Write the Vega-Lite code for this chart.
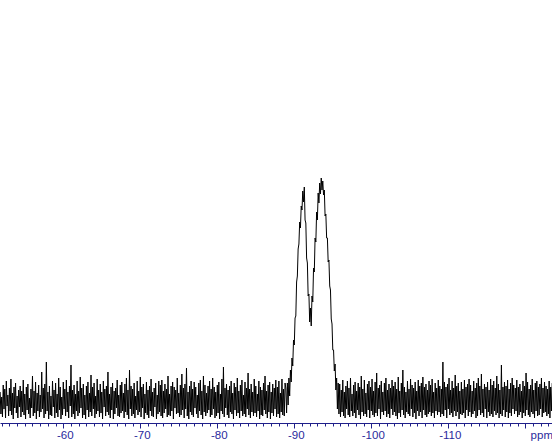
{
"$schema": "https://vega.github.io/schema/vega-lite/v6.json",
"width": 552, "height": 423,
"autosize": "none",
"padding": {"left": 0, "right": 0, "top": 0, "bottom": 22},
"background": "white",
"config": {"view": {"stroke": null}},
"data": {"values": [
{"ppm":-51.8,"int":8},{"ppm":-51.9,"int":-14},{"ppm":-52.0,"int":3},{"ppm":-52.1,"int":-17},{"ppm":-52.2,"int":15},{"ppm":-52.3,"int":-9},{"ppm":-52.4,"int":11},{"ppm":-52.5,"int":-18},{"ppm":-52.6,"int":19},{"ppm":-52.7,"int":-6},
{"ppm":-52.8,"int":5},{"ppm":-52.9,"int":-16},{"ppm":-53.0,"int":12},{"ppm":-53.1,"int":-11},{"ppm":-53.2,"int":21},{"ppm":-53.3,"int":-15},{"ppm":-53.4,"int":7},{"ppm":-53.5,"int":-19},{"ppm":-53.6,"int":13},{"ppm":-53.7,"int":-8},
{"ppm":-53.8,"int":17},{"ppm":-53.9,"int":-13},{"ppm":-54.0,"int":4},{"ppm":-54.1,"int":-18},{"ppm":-54.2,"int":10},{"ppm":-54.3,"int":-7},{"ppm":-54.4,"int":14},{"ppm":-54.5,"int":-17},{"ppm":-54.6,"int":9},{"ppm":-54.7,"int":-12},
{"ppm":-54.8,"int":20},{"ppm":-54.9,"int":-15},{"ppm":-55.0,"int":6},{"ppm":-55.1,"int":-19},{"ppm":-55.2,"int":13},{"ppm":-55.3,"int":-10},{"ppm":-55.4,"int":16},{"ppm":-55.5,"int":-14},{"ppm":-55.6,"int":2},{"ppm":-55.7,"int":-18},
{"ppm":-55.8,"int":11},{"ppm":-55.9,"int":-8},{"ppm":-56.0,"int":24},{"ppm":-56.1,"int":-16},{"ppm":-56.2,"int":9},{"ppm":-56.3,"int":-13},{"ppm":-56.4,"int":18},{"ppm":-56.5,"int":-19},{"ppm":-56.6,"int":7},{"ppm":-56.7,"int":-11},
{"ppm":-56.8,"int":15},{"ppm":-56.9,"int":-17},{"ppm":-57.0,"int":5},{"ppm":-57.1,"int":-12},{"ppm":-57.2,"int":28},{"ppm":-57.3,"int":-9},{"ppm":-57.4,"int":12},{"ppm":-57.5,"int":-18},{"ppm":-57.6,"int":16},{"ppm":-57.7,"int":-14},
{"ppm":-57.8,"int":38},{"ppm":-57.9,"int":-11},{"ppm":-58.0,"int":8},{"ppm":-58.1,"int":-19},{"ppm":-58.2,"int":14},{"ppm":-58.3,"int":-15},{"ppm":-58.4,"int":4},{"ppm":-58.5,"int":-16},{"ppm":-58.6,"int":19},{"ppm":-58.7,"int":-7},
{"ppm":-58.8,"int":10},{"ppm":-58.9,"int":-18},{"ppm":-59.0,"int":17},{"ppm":-59.1,"int":-13},{"ppm":-59.2,"int":6},{"ppm":-59.3,"int":-17},{"ppm":-59.4,"int":22},{"ppm":-59.5,"int":-10},{"ppm":-59.6,"int":13},{"ppm":-59.7,"int":-19},
{"ppm":-59.8,"int":3},{"ppm":-59.9,"int":-15},{"ppm":-60.0,"int":18},{"ppm":-60.1,"int":-9},{"ppm":-60.2,"int":11},{"ppm":-60.3,"int":-16},{"ppm":-60.4,"int":20},{"ppm":-60.5,"int":-12},{"ppm":-60.6,"int":8},{"ppm":-60.7,"int":-18},
{"ppm":-60.8,"int":14},{"ppm":-60.9,"int":-6},{"ppm":-61.0,"int":35},{"ppm":-61.1,"int":-17},{"ppm":-61.2,"int":10},{"ppm":-61.3,"int":-14},{"ppm":-61.4,"int":15},{"ppm":-61.5,"int":-19},{"ppm":-61.6,"int":6},{"ppm":-61.7,"int":-11},
{"ppm":-61.8,"int":19},{"ppm":-61.9,"int":-16},{"ppm":-62.0,"int":9},{"ppm":-62.1,"int":-13},{"ppm":-62.2,"int":23},{"ppm":-62.3,"int":-8},{"ppm":-62.4,"int":12},{"ppm":-62.5,"int":-18},{"ppm":-62.6,"int":16},{"ppm":-62.7,"int":-15},
{"ppm":-62.8,"int":5},{"ppm":-62.9,"int":-19},{"ppm":-63.0,"int":14},{"ppm":-63.1,"int":-10},{"ppm":-63.2,"int":18},{"ppm":-63.3,"int":-17},{"ppm":-63.4,"int":7},{"ppm":-63.5,"int":-12},{"ppm":-63.6,"int":25},{"ppm":-63.7,"int":-16},
{"ppm":-63.8,"int":13},{"ppm":-63.9,"int":-9},{"ppm":-64.0,"int":17},{"ppm":-64.1,"int":-18},{"ppm":-64.2,"int":4},{"ppm":-64.3,"int":-14},{"ppm":-64.4,"int":21},{"ppm":-64.5,"int":-11},{"ppm":-64.6,"int":10},{"ppm":-64.7,"int":-17},
{"ppm":-64.8,"int":16},{"ppm":-64.9,"int":-13},{"ppm":-65.0,"int":8},{"ppm":-65.1,"int":-19},{"ppm":-65.2,"int":19},{"ppm":-65.3,"int":-7},{"ppm":-65.4,"int":11},{"ppm":-65.5,"int":-16},{"ppm":-65.6,"int":14},{"ppm":-65.7,"int":-12},
{"ppm":-65.8,"int":28},{"ppm":-65.9,"int":-15},{"ppm":-66.0,"int":6},{"ppm":-66.1,"int":-18},{"ppm":-66.2,"int":13},{"ppm":-66.3,"int":-10},{"ppm":-66.4,"int":17},{"ppm":-66.5,"int":-19},{"ppm":-66.6,"int":9},{"ppm":-66.7,"int":-14},
{"ppm":-66.8,"int":12},{"ppm":-66.9,"int":-8},{"ppm":-67.0,"int":20},{"ppm":-67.1,"int":-16},{"ppm":-67.2,"int":5},{"ppm":-67.3,"int":-17},{"ppm":-67.4,"int":15},{"ppm":-67.5,"int":-13},{"ppm":-67.6,"int":18},{"ppm":-67.7,"int":-11},
{"ppm":-67.8,"int":7},{"ppm":-67.9,"int":-18},{"ppm":-68.0,"int":16},{"ppm":-68.1,"int":-12},{"ppm":-68.2,"int":22},{"ppm":-68.3,"int":-15},{"ppm":-68.4,"int":10},{"ppm":-68.5,"int":-19},{"ppm":-68.6,"int":30},{"ppm":-68.7,"int":-9},
{"ppm":-68.8,"int":14},{"ppm":-68.9,"int":-16},{"ppm":-69.0,"int":11},{"ppm":-69.1,"int":-14},{"ppm":-69.2,"int":17},{"ppm":-69.3,"int":-18},{"ppm":-69.4,"int":4},{"ppm":-69.5,"int":-10},{"ppm":-69.6,"int":19},{"ppm":-69.7,"int":-15},
{"ppm":-69.8,"int":9},{"ppm":-69.9,"int":-12},{"ppm":-70.0,"int":23},{"ppm":-70.1,"int":-17},{"ppm":-70.2,"int":13},{"ppm":-70.3,"int":-8},{"ppm":-70.4,"int":16},{"ppm":-70.5,"int":-19},{"ppm":-70.6,"int":6},{"ppm":-70.7,"int":-13},
{"ppm":-70.8,"int":18},{"ppm":-70.9,"int":-15},{"ppm":-71.0,"int":10},{"ppm":-71.1,"int":-18},{"ppm":-71.2,"int":14},{"ppm":-71.3,"int":-11},{"ppm":-71.4,"int":21},{"ppm":-71.5,"int":-16},{"ppm":-71.6,"int":8},{"ppm":-71.7,"int":-17},
{"ppm":-71.8,"int":12},{"ppm":-71.9,"int":-7},{"ppm":-72.0,"int":17},{"ppm":-72.1,"int":-19},{"ppm":-72.2,"int":5},{"ppm":-72.3,"int":-14},{"ppm":-72.4,"int":19},{"ppm":-72.5,"int":-12},{"ppm":-72.6,"int":15},{"ppm":-72.7,"int":-16},
{"ppm":-72.8,"int":20},{"ppm":-72.9,"int":-18},{"ppm":-73.0,"int":9},{"ppm":-73.1,"int":-13},{"ppm":-73.2,"int":16},{"ppm":-73.3,"int":-9},{"ppm":-73.4,"int":11},{"ppm":-73.5,"int":-17},{"ppm":-73.6,"int":24},{"ppm":-73.7,"int":-15},
{"ppm":-73.8,"int":6},{"ppm":-73.9,"int":-16},{"ppm":-74.0,"int":14},{"ppm":-74.1,"int":-11},{"ppm":-74.2,"int":18},{"ppm":-74.3,"int":-19},{"ppm":-74.4,"int":13},{"ppm":-74.5,"int":-8},{"ppm":-74.6,"int":10},{"ppm":-74.7,"int":-14},
{"ppm":-74.8,"int":22},{"ppm":-74.9,"int":-13},{"ppm":-75.0,"int":7},{"ppm":-75.1,"int":-17},{"ppm":-75.2,"int":15},{"ppm":-75.3,"int":-15},{"ppm":-75.4,"int":26},{"ppm":-75.5,"int":-10},{"ppm":-75.6,"int":12},{"ppm":-75.7,"int":-18},
{"ppm":-75.8,"int":16},{"ppm":-75.9,"int":-9},{"ppm":-76.0,"int":32},{"ppm":-76.1,"int":-16},{"ppm":-76.2,"int":8},{"ppm":-76.3,"int":-19},{"ppm":-76.4,"int":14},{"ppm":-76.5,"int":-12},{"ppm":-76.6,"int":19},{"ppm":-76.7,"int":-15},
{"ppm":-76.8,"int":11},{"ppm":-76.9,"int":-17},{"ppm":-77.0,"int":18},{"ppm":-77.1,"int":-8},{"ppm":-77.2,"int":13},{"ppm":-77.3,"int":-14},{"ppm":-77.4,"int":5},{"ppm":-77.5,"int":-18},{"ppm":-77.6,"int":17},{"ppm":-77.7,"int":-11},
{"ppm":-77.8,"int":20},{"ppm":-77.9,"int":-15},{"ppm":-78.0,"int":9},{"ppm":-78.1,"int":-19},{"ppm":-78.2,"int":24},{"ppm":-78.3,"int":-12},{"ppm":-78.4,"int":15},{"ppm":-78.5,"int":-16},{"ppm":-78.6,"int":7},{"ppm":-78.7,"int":-13},
{"ppm":-78.8,"int":14},{"ppm":-78.9,"int":-10},{"ppm":-79.0,"int":19},{"ppm":-79.1,"int":-17},{"ppm":-79.2,"int":11},{"ppm":-79.3,"int":-15},{"ppm":-79.4,"int":22},{"ppm":-79.5,"int":-9},{"ppm":-79.6,"int":13},{"ppm":-79.7,"int":-18},
{"ppm":-79.8,"int":8},{"ppm":-79.9,"int":-16},{"ppm":-80.0,"int":15},{"ppm":-80.1,"int":-13},{"ppm":-80.2,"int":18},{"ppm":-80.3,"int":-19},{"ppm":-80.4,"int":6},{"ppm":-80.5,"int":-11},{"ppm":-80.6,"int":21},{"ppm":-80.7,"int":-14},
{"ppm":-80.8,"int":33},{"ppm":-80.9,"int":-17},{"ppm":-81.0,"int":12},{"ppm":-81.1,"int":-8},{"ppm":-81.2,"int":16},{"ppm":-81.3,"int":-15},{"ppm":-81.4,"int":10},{"ppm":-81.5,"int":-18},{"ppm":-81.6,"int":14},{"ppm":-81.7,"int":-12},
{"ppm":-81.8,"int":19},{"ppm":-81.9,"int":-14},{"ppm":-82.0,"int":7},{"ppm":-82.1,"int":-19},{"ppm":-82.2,"int":17},{"ppm":-82.3,"int":-10},{"ppm":-82.4,"int":13},{"ppm":-82.5,"int":-16},{"ppm":-82.6,"int":22},{"ppm":-82.7,"int":-13},
{"ppm":-82.8,"int":9},{"ppm":-82.9,"int":-18},{"ppm":-83.0,"int":15},{"ppm":-83.1,"int":-11},{"ppm":-83.2,"int":20},{"ppm":-83.3,"int":-16},{"ppm":-83.4,"int":5},{"ppm":-83.5,"int":-14},{"ppm":-83.6,"int":18},{"ppm":-83.7,"int":-17},
{"ppm":-83.8,"int":12},{"ppm":-83.9,"int":-9},{"ppm":-84.0,"int":27},{"ppm":-84.1,"int":-15},{"ppm":-84.2,"int":11},{"ppm":-84.3,"int":-18},{"ppm":-84.4,"int":16},{"ppm":-84.5,"int":-12},{"ppm":-84.6,"int":8},{"ppm":-84.7,"int":-16},
{"ppm":-84.8,"int":21},{"ppm":-84.9,"int":-13},{"ppm":-85.0,"int":14},{"ppm":-85.1,"int":-17},{"ppm":-85.2,"int":6},{"ppm":-85.3,"int":-11},{"ppm":-85.4,"int":19},{"ppm":-85.5,"int":-19},{"ppm":-85.6,"int":13},{"ppm":-85.7,"int":-15},
{"ppm":-85.8,"int":10},{"ppm":-85.9,"int":-16},{"ppm":-86.0,"int":17},{"ppm":-86.1,"int":-10},{"ppm":-86.2,"int":24},{"ppm":-86.3,"int":-14},{"ppm":-86.4,"int":9},{"ppm":-86.5,"int":-18},{"ppm":-86.6,"int":15},{"ppm":-86.7,"int":-12},
{"ppm":-86.8,"int":18},{"ppm":-86.9,"int":-19},{"ppm":-87.0,"int":8},{"ppm":-87.1,"int":-13},{"ppm":-87.2,"int":16},{"ppm":-87.3,"int":-16},{"ppm":-87.4,"int":12},{"ppm":-87.5,"int":-9},{"ppm":-87.6,"int":20},{"ppm":-87.7,"int":-17},
{"ppm":-87.8,"int":13},{"ppm":-87.9,"int":-14},{"ppm":-88.0,"int":19},{"ppm":-88.1,"int":-18},{"ppm":-88.2,"int":7},{"ppm":-88.3,"int":-12},{"ppm":-88.4,"int":21},{"ppm":-88.5,"int":-15},{"ppm":-88.6,"int":11},{"ppm":-88.7,"int":-16},
{"ppm":-88.8,"int":17},
{"ppm":-88.9,"int":12},{"ppm":-89.0,"int":-13},{"ppm":-89.1,"int":17},{"ppm":-89.2,"int":-5},{"ppm":-89.3,"int":22},{"ppm":-89.4,"int":4},{"ppm":-89.5,"int":30},{"ppm":-89.6,"int":18},{"ppm":-89.7,"int":42},{"ppm":-89.8,"int":34},
{"ppm":-89.9,"int":60},{"ppm":-90.0,"int":55},{"ppm":-90.1,"int":82},{"ppm":-90.2,"int":84},{"ppm":-90.3,"int":118},{"ppm":-90.4,"int":124},{"ppm":-90.5,"int":151},{"ppm":-90.6,"int":156},{"ppm":-90.7,"int":178},{"ppm":-90.8,"int":172},
{"ppm":-90.9,"int":194},{"ppm":-91.0,"int":190},{"ppm":-91.1,"int":209},{"ppm":-91.2,"int":198},{"ppm":-91.3,"int":213},{"ppm":-91.4,"int":180},{"ppm":-91.5,"int":177},{"ppm":-91.6,"int":142},{"ppm":-91.7,"int":137},{"ppm":-91.8,"int":104},
{"ppm":-91.9,"int":106},{"ppm":-92.0,"int":78},{"ppm":-92.1,"int":92},{"ppm":-92.2,"int":74},{"ppm":-92.3,"int":104},{"ppm":-92.4,"int":98},{"ppm":-92.5,"int":132},{"ppm":-92.6,"int":128},{"ppm":-92.7,"int":162},{"ppm":-92.8,"int":158},
{"ppm":-92.9,"int":188},{"ppm":-93.0,"int":180},{"ppm":-93.1,"int":207},{"ppm":-93.2,"int":197},{"ppm":-93.3,"int":217},{"ppm":-93.4,"int":206},{"ppm":-93.5,"int":222},{"ppm":-93.6,"int":210},{"ppm":-93.7,"int":219},{"ppm":-93.8,"int":205},
{"ppm":-93.9,"int":210},{"ppm":-94.0,"int":184},{"ppm":-94.1,"int":186},{"ppm":-94.2,"int":162},{"ppm":-94.3,"int":162},{"ppm":-94.4,"int":138},{"ppm":-94.5,"int":140},{"ppm":-94.6,"int":114},{"ppm":-94.7,"int":110},{"ppm":-94.8,"int":81},
{"ppm":-94.9,"int":76},{"ppm":-95.0,"int":50},{"ppm":-95.1,"int":50},{"ppm":-95.2,"int":29},{"ppm":-95.3,"int":36},{"ppm":-95.4,"int":10},{"ppm":-95.5,"int":22},{"ppm":-95.6,"int":-9},{"ppm":-95.7,"int":17},
{"ppm":-95.8,"int":-14},{"ppm":-95.9,"int":16},{"ppm":-96.0,"int":-17},{"ppm":-96.1,"int":10},{"ppm":-96.2,"int":-12},{"ppm":-96.3,"int":20},{"ppm":-96.4,"int":-16},{"ppm":-96.5,"int":8},{"ppm":-96.6,"int":-18},{"ppm":-96.7,"int":14},
{"ppm":-96.8,"int":-9},{"ppm":-96.9,"int":19},{"ppm":-97.0,"int":-15},{"ppm":-97.1,"int":12},{"ppm":-97.2,"int":-17},{"ppm":-97.3,"int":22},{"ppm":-97.4,"int":-11},{"ppm":-97.5,"int":6},{"ppm":-97.6,"int":-16},{"ppm":-97.7,"int":15},
{"ppm":-97.8,"int":-13},{"ppm":-97.9,"int":18},{"ppm":-98.0,"int":-18},{"ppm":-98.1,"int":9},{"ppm":-98.2,"int":-10},{"ppm":-98.3,"int":17},{"ppm":-98.4,"int":-15},{"ppm":-98.5,"int":13},{"ppm":-98.6,"int":-19},{"ppm":-98.7,"int":24},
{"ppm":-98.8,"int":-12},{"ppm":-98.9,"int":11},{"ppm":-99.0,"int":-16},{"ppm":-99.1,"int":20},{"ppm":-99.2,"int":-14},{"ppm":-99.3,"int":7},{"ppm":-99.4,"int":-17},{"ppm":-99.5,"int":16},{"ppm":-99.6,"int":-10},{"ppm":-99.7,"int":19},
{"ppm":-99.8,"int":-18},{"ppm":-99.9,"int":13},{"ppm":-100.0,"int":-11},{"ppm":-100.1,"int":21},{"ppm":-100.2,"int":-15},{"ppm":-100.3,"int":9},{"ppm":-100.4,"int":-17},{"ppm":-100.5,"int":18},{"ppm":-100.6,"int":-13},{"ppm":-100.7,"int":27},
{"ppm":-100.8,"int":-16},{"ppm":-100.9,"int":12},{"ppm":-101.0,"int":-9},{"ppm":-101.1,"int":15},{"ppm":-101.2,"int":-19},{"ppm":-101.3,"int":19},{"ppm":-101.4,"int":-12},{"ppm":-101.5,"int":8},{"ppm":-101.6,"int":-15},{"ppm":-101.7,"int":17},
{"ppm":-101.8,"int":-11},{"ppm":-101.9,"int":22},{"ppm":-102.0,"int":-17},{"ppm":-102.1,"int":10},{"ppm":-102.2,"int":-14},{"ppm":-102.3,"int":16},{"ppm":-102.4,"int":-18},{"ppm":-102.5,"int":12},{"ppm":-102.6,"int":-9},{"ppm":-102.7,"int":20},
{"ppm":-102.8,"int":-15},{"ppm":-102.9,"int":14},{"ppm":-103.0,"int":-12},{"ppm":-103.1,"int":18},{"ppm":-103.2,"int":-16},{"ppm":-103.3,"int":11},{"ppm":-103.4,"int":-19},{"ppm":-103.5,"int":23},{"ppm":-103.6,"int":-13},{"ppm":-103.7,"int":9},
{"ppm":-103.8,"int":-17},{"ppm":-103.9,"int":17},{"ppm":-104.0,"int":-10},{"ppm":-104.1,"int":30},{"ppm":-104.2,"int":-15},{"ppm":-104.3,"int":13},{"ppm":-104.4,"int":-18},{"ppm":-104.5,"int":8},{"ppm":-104.6,"int":-12},{"ppm":-104.7,"int":19},
{"ppm":-104.8,"int":-14},{"ppm":-104.9,"int":11},{"ppm":-105.0,"int":-16},{"ppm":-105.1,"int":21},{"ppm":-105.2,"int":-9},{"ppm":-105.3,"int":15},{"ppm":-105.4,"int":-17},{"ppm":-105.5,"int":12},{"ppm":-105.6,"int":-13},{"ppm":-105.7,"int":18},
{"ppm":-105.8,"int":-19},{"ppm":-105.9,"int":9},{"ppm":-106.0,"int":-11},{"ppm":-106.1,"int":20},{"ppm":-106.2,"int":-16},{"ppm":-106.3,"int":14},{"ppm":-106.4,"int":-12},{"ppm":-106.5,"int":17},{"ppm":-106.6,"int":-18},{"ppm":-106.7,"int":23},
{"ppm":-106.8,"int":-10},{"ppm":-106.9,"int":13},{"ppm":-107.0,"int":-15},{"ppm":-107.1,"int":16},{"ppm":-107.2,"int":-17},{"ppm":-107.3,"int":10},{"ppm":-107.4,"int":-14},{"ppm":-107.5,"int":19},{"ppm":-107.6,"int":-12},{"ppm":-107.7,"int":15},
{"ppm":-107.8,"int":-16},{"ppm":-107.9,"int":21},{"ppm":-108.0,"int":-13},{"ppm":-108.1,"int":8},{"ppm":-108.2,"int":-18},{"ppm":-108.3,"int":17},{"ppm":-108.4,"int":-11},{"ppm":-108.5,"int":12},{"ppm":-108.6,"int":-15},{"ppm":-108.7,"int":20},
{"ppm":-108.8,"int":-12},{"ppm":-108.9,"int":14},{"ppm":-109.0,"int":-17},{"ppm":-109.1,"int":11},{"ppm":-109.2,"int":-14},{"ppm":-109.3,"int":38},{"ppm":-109.4,"int":-16},{"ppm":-109.5,"int":18},{"ppm":-109.6,"int":-10},{"ppm":-109.7,"int":13},
{"ppm":-109.8,"int":-18},{"ppm":-109.9,"int":16},{"ppm":-110.0,"int":-9},{"ppm":-110.1,"int":22},{"ppm":-110.2,"int":-15},{"ppm":-110.3,"int":10},{"ppm":-110.4,"int":-13},{"ppm":-110.5,"int":19},{"ppm":-110.6,"int":-17},{"ppm":-110.7,"int":12},
{"ppm":-110.8,"int":-11},{"ppm":-110.9,"int":25},{"ppm":-111.0,"int":-16},{"ppm":-111.1,"int":14},{"ppm":-111.2,"int":-12},{"ppm":-111.3,"int":17},{"ppm":-111.4,"int":-19},{"ppm":-111.5,"int":9},{"ppm":-111.6,"int":-14},{"ppm":-111.7,"int":18},
{"ppm":-111.8,"int":-15},{"ppm":-111.9,"int":11},{"ppm":-112.0,"int":-13},{"ppm":-112.1,"int":20},{"ppm":-112.2,"int":-18},{"ppm":-112.3,"int":13},{"ppm":-112.4,"int":-10},{"ppm":-112.5,"int":16},{"ppm":-112.6,"int":-16},{"ppm":-112.7,"int":21},
{"ppm":-112.8,"int":-12},{"ppm":-112.9,"int":15},{"ppm":-113.0,"int":-17},{"ppm":-113.1,"int":9},{"ppm":-113.2,"int":-14},{"ppm":-113.3,"int":19},{"ppm":-113.4,"int":-11},{"ppm":-113.5,"int":12},{"ppm":-113.6,"int":-18},{"ppm":-113.7,"int":17},
{"ppm":-113.8,"int":-16},{"ppm":-113.9,"int":22},{"ppm":-114.0,"int":-10},{"ppm":-114.1,"int":14},{"ppm":-114.2,"int":-15},{"ppm":-114.3,"int":26},{"ppm":-114.4,"int":-13},{"ppm":-114.5,"int":11},{"ppm":-114.6,"int":-17},{"ppm":-114.7,"int":16},
{"ppm":-114.8,"int":-9},{"ppm":-114.9,"int":13},{"ppm":-115.0,"int":-18},{"ppm":-115.1,"int":18},{"ppm":-115.2,"int":-12},{"ppm":-115.3,"int":10},{"ppm":-115.4,"int":-16},{"ppm":-115.5,"int":21},{"ppm":-115.6,"int":-14},{"ppm":-115.7,"int":15},
{"ppm":-115.8,"int":-17},{"ppm":-115.9,"int":19},{"ppm":-116.0,"int":-11},{"ppm":-116.1,"int":12},{"ppm":-116.2,"int":-15},{"ppm":-116.3,"int":24},{"ppm":-116.4,"int":-13},{"ppm":-116.5,"int":16},{"ppm":-116.6,"int":-18},{"ppm":-116.7,"int":10},
{"ppm":-116.8,"int":-14},{"ppm":-116.9,"int":35},{"ppm":-117.0,"int":-16},{"ppm":-117.1,"int":13},{"ppm":-117.2,"int":-10},{"ppm":-117.3,"int":18},{"ppm":-117.4,"int":-17},{"ppm":-117.5,"int":14},{"ppm":-117.6,"int":-12},{"ppm":-117.7,"int":20},
{"ppm":-117.8,"int":-18},{"ppm":-117.9,"int":11},{"ppm":-118.0,"int":-13},{"ppm":-118.1,"int":17},{"ppm":-118.2,"int":-16},{"ppm":-118.3,"int":22},{"ppm":-118.4,"int":-9},{"ppm":-118.5,"int":15},{"ppm":-118.6,"int":-14},{"ppm":-118.7,"int":12},
{"ppm":-118.8,"int":-11},{"ppm":-118.9,"int":20},{"ppm":-119.0,"int":-17},{"ppm":-119.1,"int":13},{"ppm":-119.2,"int":-15},{"ppm":-119.3,"int":16},{"ppm":-119.4,"int":-12},{"ppm":-119.5,"int":9},{"ppm":-119.6,"int":-18},{"ppm":-119.7,"int":19},
{"ppm":-119.8,"int":-13},{"ppm":-119.9,"int":14},{"ppm":-120.0,"int":-16},{"ppm":-120.1,"int":27},{"ppm":-120.2,"int":-10},{"ppm":-120.3,"int":18},{"ppm":-120.4,"int":-15},{"ppm":-120.5,"int":11},{"ppm":-120.6,"int":-17},{"ppm":-120.7,"int":15},
{"ppm":-120.8,"int":-12},{"ppm":-120.9,"int":21},{"ppm":-121.0,"int":-14},{"ppm":-121.1,"int":10},{"ppm":-121.2,"int":-18},{"ppm":-121.3,"int":17},{"ppm":-121.4,"int":-11},{"ppm":-121.5,"int":19},{"ppm":-121.6,"int":-16},{"ppm":-121.7,"int":13},
{"ppm":-121.8,"int":-15},{"ppm":-121.9,"int":16},{"ppm":-122.0,"int":-9},{"ppm":-122.1,"int":22},{"ppm":-122.2,"int":-17},{"ppm":-122.3,"int":12},{"ppm":-122.4,"int":-13},{"ppm":-122.5,"int":18},{"ppm":-122.6,"int":-12},{"ppm":-122.7,"int":14},
{"ppm":-122.8,"int":-16},{"ppm":-122.9,"int":11},{"ppm":-123.0,"int":-14},{"ppm":-123.1,"int":19},{"ppm":-123.2,"int":-18},{"ppm":-123.3,"int":13},{"ppm":-123.4,"int":-11},{"ppm":-123.5,"int":17}
]},
"mark": {"type": "line", "color": "black", "strokeWidth": 1, "clip": true},
"encoding": {
  "x": {"field": "ppm", "type": "quantitative",
    "scale": {"domain": [-123.47, -51.78], "reverse": true, "nice": false, "zero": false},
    "axis": {
      "values": [-52,-53,-54,-55,-56,-57,-58,-59,-60,-61,-62,-63,-64,-65,-66,-67,-68,-69,-70,-71,-72,-73,-74,-75,-76,-77,-78,-79,-80,-81,-82,-83,-84,-85,-86,-87,-88,-89,-90,-91,-92,-93,-94,-95,-96,-97,-98,-99,-100,-101,-102,-103,-104,-105,-106,-107,-108,-109,-110,-111,-112,-113,-114,-115,-116,-117,-118,-119,-120,-121,-122,-123],
      "labelExpr": "datum.value == -120 ? 'ppm' : (datum.value % 10 == 0 ? '' + datum.value : '')",
      "labelOverlap": false, "labelFlush": false, "labelBound": false,
      "labelFont": "Liberation Sans", "labelFontSize": 11.5, "labelColor": "#2a2a9c",
      "labelPadding": 1,
      "labelOffset": {"condition": {"test": "datum.value == -120", "value": 16}, "value": 1.5},
      "tickSize": {"condition": {"test": "datum.value % 10 == 0", "value": 5}, "value": 3},
      "tickColor": "#1f1f8a", "tickWidth": 1,
      "domainColor": "#1f1f8a", "domainWidth": 1,
      "grid": false, "title": null
    }},
  "y": {"field": "int", "type": "quantitative",
    "scale": {"domain": [-23, 400], "nice": false, "zero": false},
    "axis": null}
}
}
